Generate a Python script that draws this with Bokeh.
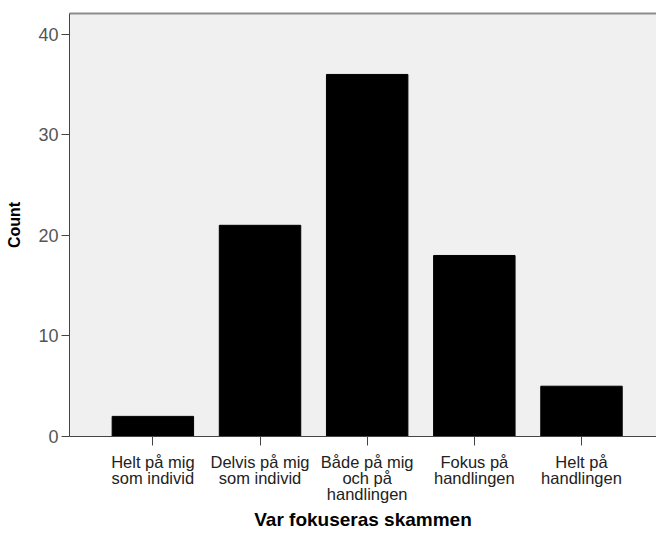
from bokeh.plotting import figure
from bokeh.models import Range1d, FixedTicker, LinearAxis
from bokeh.embed import file_html
from bokeh.resources import INLINE

categories = ["Helt på mig\nsom individ", "Delvis på mig\nsom individ",
              "Både på mig\noch på\nhandlingen", "Fokus på\nhandlingen",
              "Helt på\nhandlingen"]
counts = [2, 21, 36, 18, 5]
y_ticks = [0, 10, 20, 30, 40]

positions = [i + 1 for i in range(len(categories))]

FONT = "Liberation Sans"

p = figure(width=656, height=533, output_backend="svg", toolbar_location=None,
           x_range=Range1d(0.222, 5.70), y_range=Range1d(0, 42.06),
           min_border_left=69, min_border_right=0, min_border_top=13,
           min_border_bottom=97)

p.background_fill_color = "#f0f0f0"
p.border_fill_color = "white"
p.outline_line_color = None
p.grid.visible = False

p.vbar(x=positions, top=counts, width=0.76, color="black")

xa = p.xaxis[0]
xa.ticker = FixedTicker(ticks=positions)
xa.major_label_overrides = {pos: lab for pos, lab in zip(positions, categories)}
xa.major_tick_out = 9
xa.major_tick_in = 0
xa.minor_tick_line_color = None
xa.axis_line_color = "#444444"
xa.major_tick_line_color = "#444444"
xa.major_label_text_font = FONT
xa.major_label_text_font_size = "16.5px"
xa.major_label_text_color = "#222222"
xa.major_label_text_line_height = 0.9
xa.major_label_standoff = 7
xa.axis_label = "Var fokuseras skammen"
xa.axis_label_text_font = FONT
xa.axis_label_text_font_style = "bold"
xa.axis_label_text_font_size = "19px"
xa.axis_label_text_color = "black"
xa.axis_label_standoff = 3

ya = p.yaxis[0]
ya.ticker = FixedTicker(ticks=y_ticks)
ya.major_tick_out = 8
ya.major_tick_in = 0
ya.minor_tick_line_color = None
ya.axis_line_color = "#444444"
ya.major_tick_line_color = "#444444"
ya.major_label_text_font = FONT
ya.major_label_text_font_size = "18px"
ya.major_label_text_color = "#555555"
ya.major_label_standoff = 3
ya.axis_label = "Count"
ya.axis_label_text_font = FONT
ya.axis_label_text_font_style = "bold"
ya.axis_label_text_font_size = "16px"
ya.axis_label_text_color = "black"
ya.axis_label_standoff = 12

top = LinearAxis(axis_line_color="#8c8c8c", axis_line_width=2,
                 major_tick_line_color=None, minor_tick_line_color=None,
                 major_label_text_font_size="0px", ticker=FixedTicker(ticks=[]))
p.add_layout(top, "above")

open("out.html", "w").write(file_html(p, INLINE))
